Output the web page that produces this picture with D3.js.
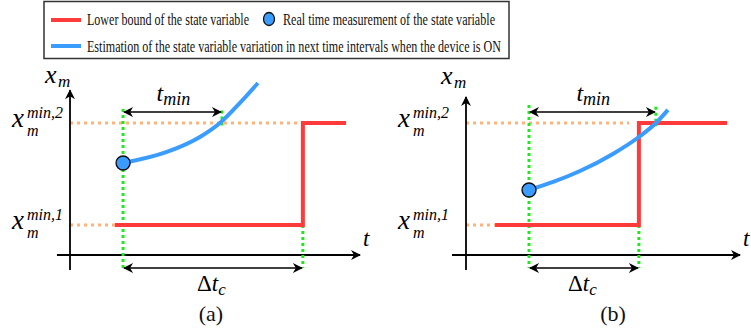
<!DOCTYPE html>
<html>
<head>
<meta charset="utf-8">
<script src="https://cdn.jsdelivr.net/npm/d3@7"></script>
<style>
  body { margin: 0; background: #fff; font-family: "Liberation Serif", serif; }
  svg { display: block; font-family: "Liberation Serif", serif; }
</style>
</head>
<body>
<div id="chart"></div>
<script>
// data (time / state units, 0..100 on both axes)
const levels = [18.4, 81]; // x_m^{min,1}, x_m^{min,2}
const legendItems = [
  'Lower bound of the state variable',
  'Real time measurement of the state variable',
  'Estimation of the state variable variation in next time intervals when the device is ON'
];
const panelNames = ['(a)', '(b)'];

const lowerBoundA = [[15.5, 18.4], [80.3, 18.4], [80.3, 81], [95.2, 81]];
const lowerBoundB = [[10.6, 18.4], [63.1, 18.4], [63.1, 81], [95.3, 81]];
const measureA = [18.3, 56.4];
const measureB = [23, 39.9];
const estimateA = [[18.3, 56.4], [33.4, 63.2], [44.8, 72.4], [51.7, 81], [58.6, 93.3], [64.8, 105.5]];
const estimateB = [[23, 39.9], [31.8, 44.8], [41.6, 51.5], [53.6, 62], [63.1, 72.4], [69.7, 81.6], [73.7, 89]];
const tMinEndA = 52.4, tMinEndB = 69.3;
const guideEndA = 80.3, guideEndB = 59.5; // orange dotted line at upper level

const SERIF = 'Liberation Serif';

const width = 751, height = 334;
const svg = d3.select('#chart').append('svg')
  .attr('width', width).attr('height', height);

const defs = svg.append('defs');
function marker(id, orient) {
  defs.append('marker')
    .attr('id', id)
    .attr('viewBox', '0 0 10 10')
    .attr('refX', 9).attr('refY', 5)
    .attr('markerWidth', 12).attr('markerHeight', 10)
    .attr('markerUnits', 'userSpaceOnUse')
    .attr('orient', orient)
    .append('path')
    .attr('d', 'M0,0 L10,5 L0,10 L3,5 Z')
    .attr('fill', '#000');
}
marker('arrow', 'auto');
marker('arrowStart', 'auto-start-reverse');

const red = '#ff3a3a', blue = '#3b9cff', green = '#1fe81f', orange = '#ffb27a';

function mathText(sel) {
  return sel.style('font-family', SERIF).style('font-style', 'italic').attr('fill', '#000');
}
function romanText(sel) {
  return sel.style('font-family', SERIF).attr('fill', '#111');
}

// ---- legend
const legend = svg.append('g');
legend.append('rect')
  .attr('x', 44).attr('y', 1.5).attr('width', 465).attr('height', 57)
  .attr('fill', '#fff').attr('stroke', '#333').attr('stroke-width', 1.5);
legend.append('line').attr('x1', 51).attr('x2', 81).attr('y1', 20).attr('y2', 20)
  .attr('stroke', red).attr('stroke-width', 4);
legend.append('line').attr('x1', 51).attr('x2', 81).attr('y1', 46).attr('y2', 46)
  .attr('stroke', blue).attr('stroke-width', 4);
legend.append('ellipse').attr('cx', 269).attr('cy', 19).attr('rx', 5.5).attr('ry', 6.5)
  .attr('fill', blue).attr('stroke', '#111').attr('stroke-width', 1.3);
const legendText = [
  { x: 87, y: 25, w: 162 },
  { x: 283, y: 25, w: 212 },
  { x: 87, y: 52, w: 414 }
];
legendText.forEach((p, i) => {
  legend.append('text').call(romanText)
    .attr('x', p.x).attr('y', p.y)
    .attr('font-size', 17)
    .attr('textLength', p.w).attr('lengthAdjust', 'spacingAndGlyphs')
    .text(legendItems[i]);
});

// ---- panels
const y = d3.scaleLinear().domain([0, 100]).range([255, 92]);

function drawPanel(opt) {
  const x = d3.scaleLinear().domain([0, 100]).range(opt.range);
  const g = svg.append('g');
  const line = d3.line().x(d => x(d[0])).y(d => y(d[1]));

  // orange guides
  g.append('line')
    .attr('x1', x(0)).attr('x2', x(opt.guideEnd))
    .attr('y1', y(levels[1])).attr('y2', y(levels[1]))
    .attr('stroke', orange).attr('stroke-width', 3).attr('stroke-dasharray', '3,4');
  g.append('line')
    .attr('x1', x(0)).attr('x2', x(opt.bound[0][0]))
    .attr('y1', y(levels[0])).attr('y2', y(levels[0]))
    .attr('stroke', orange).attr('stroke-width', 3).attr('stroke-dasharray', '3,4');

  // axes
  g.append('line')
    .attr('x1', x(0)).attr('x2', x(0))
    .attr('y1', y(-9.2)).attr('y2', y(opt.yTop))
    .attr('stroke', '#000').attr('stroke-width', 1.8)
    .attr('marker-end', 'url(#arrow)');
  g.append('line')
    .attr('x1', x(opt.xStart)).attr('x2', x(100))
    .attr('y1', y(0)).attr('y2', y(0))
    .attr('stroke', '#000').attr('stroke-width', 1.8)
    .attr('marker-end', 'url(#arrow)');

  // green guides
  const tm = opt.measure[0], step = opt.bound[1][0];
  g.append('line')
    .attr('x1', x(tm)).attr('x2', x(tm))
    .attr('y1', y(opt.greenTop)).attr('y2', y(-8))
    .attr('stroke', green).attr('stroke-width', 3).attr('stroke-dasharray', '3,3');
  g.append('line')
    .attr('x1', x(step)).attr('x2', x(step))
    .attr('y1', y(levels[0])).attr('y2', y(-8))
    .attr('stroke', green).attr('stroke-width', 3).attr('stroke-dasharray', '3,3');
  g.append('line')
    .attr('x1', x(opt.tMinEnd)).attr('x2', x(opt.tMinEnd))
    .attr('y1', y(opt.greenTop - 1)).attr('y2', y(levels[1] - 2))
    .attr('stroke', green).attr('stroke-width', 3).attr('stroke-dasharray', '3,3');

  // lower bound
  g.append('path').datum(opt.bound)
    .attr('d', line)
    .attr('fill', 'none').attr('stroke', red).attr('stroke-width', 4);

  // estimation curve
  g.append('path').datum(opt.estimate)
    .attr('d', line.curve(d3.curveMonotoneX))
    .attr('fill', 'none').attr('stroke', blue).attr('stroke-width', 4)
    .attr('stroke-linecap', 'butt');
  line.curve(d3.curveLinear);

  // measurement
  g.append('circle')
    .attr('cx', x(opt.measure[0])).attr('cy', y(opt.measure[1])).attr('r', 7)
    .attr('fill', blue).attr('stroke', '#111').attr('stroke-width', 1.4);

  // double arrows
  const arrows = [
    { a: tm, b: opt.tMinEnd, v: 87.7 },
    { a: tm, b: step, v: -8 }
  ];
  arrows.forEach(d => {
    g.append('line')
      .attr('x1', x(d.a) + 1).attr('x2', x(d.b) - 1)
      .attr('y1', y(d.v)).attr('y2', y(d.v))
      .attr('stroke', '#000').attr('stroke-width', 1.5)
      .attr('marker-start', 'url(#arrowStart)')
      .attr('marker-end', 'url(#arrow)');
  });

  // labels
  const x0 = x(0);
  g.append('text').call(mathText).attr('font-size', 26)
    .attr('x', x0 - 25).attr('y', opt.yTopPx - 5).text('x');
  g.append('text').call(mathText).attr('font-size', 17)
    .attr('x', x0 - 12).attr('y', opt.yTopPx - 1).text('m');
  g.append('text').call(mathText).attr('font-size', 23)
    .attr('x', x(100) + 3).attr('y', y(0) - 9).text('t');

  levels.forEach((lv, i) => {
    const by = y(lv) + 4;
    const lx = x0 - opt.labelOffset;
    g.append('text').call(mathText).attr('font-size', 27)
      .attr('x', lx).attr('y', by).text('x');
    g.append('text').call(mathText).attr('font-size', 16)
      .attr('x', lx + 15).attr('y', by - 9).text(i === 0 ? 'min,1' : 'min,2');
    g.append('text').call(mathText).attr('font-size', 16)
      .attr('x', lx + 15).attr('y', by + 9).text('m');
  });

  // t_min
  const tmx = (x(tm) + x(opt.tMinEnd)) / 2;
  const tminLabel = g.append('text').call(mathText).attr('x', tmx - 16).attr('y', 101);
  tminLabel.append('tspan').attr('font-size', 24).text('t');
  tminLabel.append('tspan').attr('font-size', 18).attr('dy', 4).text('min');

  // Delta t_c
  const dx = (x(tm) + x(step)) / 2;
  const dLabel = g.append('text').attr('x', dx - 16).attr('y', 291);
  dLabel.append('tspan').call(romanText).attr('fill', '#000').attr('font-size', 23).text('Δ');
  dLabel.append('tspan').call(mathText).attr('font-size', 23).text('t');
  dLabel.append('tspan').call(mathText).attr('font-size', 17).attr('dy', 4).text('c');

  g.append('text').call(romanText).attr('font-size', 22)
    .attr('text-anchor', 'middle')
    .attr('x', opt.nameX).attr('y', 321).text(opt.name);
}

drawPanel({
  range: [70, 360], xStart: -4.5, yTop: 101, yTopPx: y(101) - 2,
  bound: lowerBoundA, measure: measureA, estimate: estimateA,
  tMinEnd: tMinEndA, guideEnd: guideEndA, greenTop: 89.6,
  labelOffset: 58, name: panelNames[0], nameX: 211
});
drawPanel({
  range: [466, 740], xStart: -5.1, yTop: 97, yTopPx: y(97) - 8,
  bound: lowerBoundB, measure: measureB, estimate: estimateB,
  tMinEnd: tMinEndB, guideEnd: guideEndB, greenTop: 92,
  labelOffset: 68, name: panelNames[1], nameX: 613
});
</script>
</body>
</html>
